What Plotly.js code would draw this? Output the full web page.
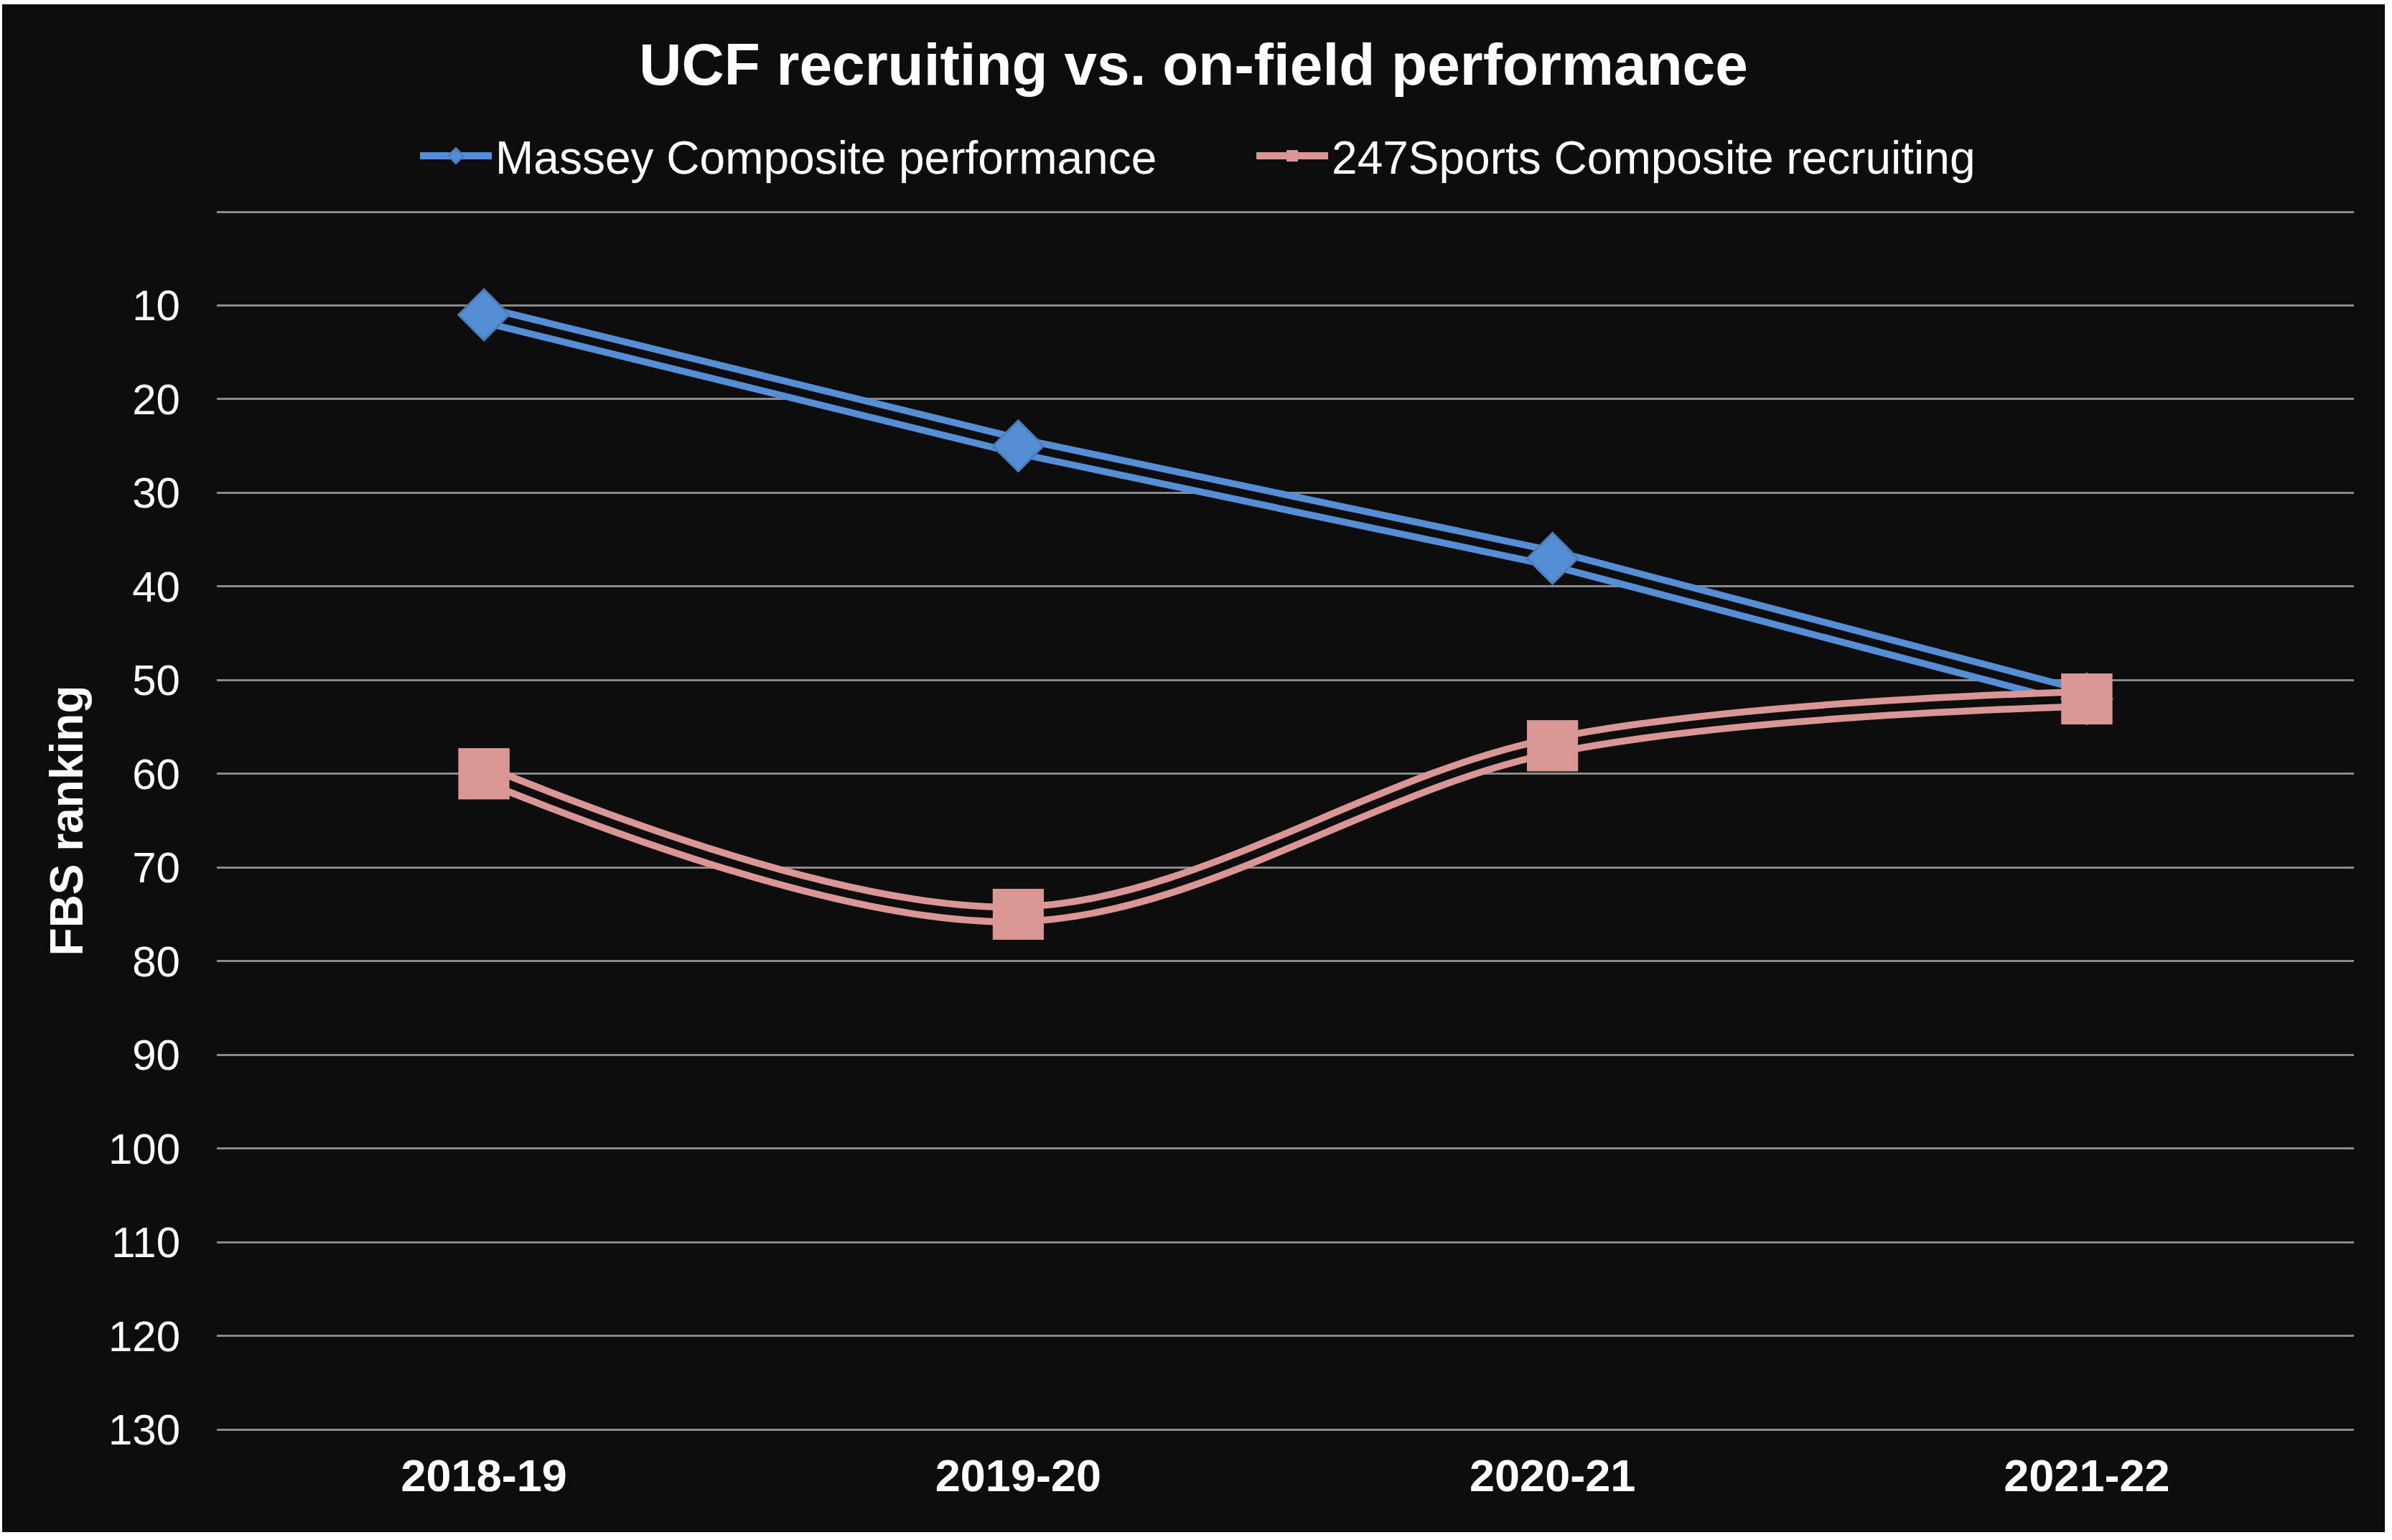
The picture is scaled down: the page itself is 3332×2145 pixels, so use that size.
<!DOCTYPE html>
<html><head><meta charset="utf-8">
<script src="https://cdn.plot.ly/plotly-3.0.1.min.js"></script>
<style>
html,body{margin:0;padding:0;background:#ffffff;}
#chart{position:absolute;left:3px;top:6px;width:3319px;height:2128px;}
</style></head><body><div id="chart"></div>
<script>
const seasons = ['2018-19', '2019-20', '2020-21', '2021-22'];
const masseyPerformance = [11, 25, 37, 52];
const recruiting247 = [60, 75, 57, 52];
const seriesNames = ['Massey Composite performance', '247Sports Composite recruiting'];
const yTickVals = [0, 10, 20, 30, 40, 50, 60, 70, 80, 90, 100, 110, 120, 130];
const yTickText = ['', '10', '20', '30', '40', '50', '60', '70', '80', '90', '100', '110', '120', '130'];

const BG = '#0d0d0d';
const BLUE = '#558ed5';
const PINK = '#d99694';
const FONT = '"Liberation Sans", Arial, Helvetica, sans-serif';

const traces = [
  {x: seasons, y: masseyPerformance, name: seriesNames[0], mode: 'lines+markers', type: 'scatter',
   line: {color: BLUE, width: 30}, marker: {symbol: 'diamond', size: 54, color: BLUE, line: {color: '#4a7ebb', width: 3}}},
  {x: seasons, y: masseyPerformance, mode: 'lines', type: 'scatter', showlegend: false,
   line: {color: BG, width: 11}},
  {x: seasons, y: recruiting247, name: seriesNames[1], mode: 'lines+markers', type: 'scatter',
   line: {color: PINK, width: 30, shape: 'spline', smoothing: 1}, marker: {symbol: 'square', size: 71, color: PINK}},
  {x: seasons, y: recruiting247, mode: 'lines', type: 'scatter', showlegend: false,
   line: {color: BG, width: 11, shape: 'spline', smoothing: 1}},
  {x: seasons, y: masseyPerformance, mode: 'markers', type: 'scatter', showlegend: false,
   marker: {symbol: 'diamond', size: 54, color: BLUE, line: {color: '#4a7ebb', width: 3}}},
  {x: seasons, y: recruiting247, mode: 'markers', type: 'scatter', showlegend: false,
   marker: {symbol: 'square', size: 71, color: PINK}}
];

const layout = {
  width: 3319, height: 2128,
  paper_bgcolor: BG, plot_bgcolor: BG,
  font: {family: FONT, color: '#ffffff', size: 60},
  margin: {l: 299, r: 43, t: 286, b: 140, pad: 0},
  hovermode: false,
  title: {text: '<b>UCF recruiting vs. on-field performance</b>', font: {family: FONT, size: 82, color: '#ffffff'},
          x: 0.5, xref: 'container', y: 1 - 83/2128, yref: 'container', yanchor: 'middle', xanchor: 'center'},
  legend: {orientation: 'h', x: 0.0934, xanchor: 'left', y: 1.0438, yanchor: 'middle',
           font: {family: FONT, size: 64, color: '#ffffff'}, bgcolor: 'rgba(0,0,0,0)',
           itemwidth: 100, entrywidth: 1050, entrywidthmode: 'pixels', traceorder: 'normal'},
  xaxis: {type: 'category', range: [-0.5, 3.5], showgrid: false, zeroline: false, showline: false,
          ticks: '', tickfont: {family: FONT, size: 63, color: '#ffffff', weight: 'bold'}, ticklabelstandoff: 19, fixedrange: true},
  yaxis: {range: [130.23, -0.23], tickmode: 'array', tickvals: yTickVals, ticktext: yTickText,
          showgrid: true, gridcolor: '#8a8a8a', gridwidth: 3, zeroline: false, showline: false,
          ticks: '', tickfont: {family: FONT, size: 60, color: '#ffffff'}, ticklabelstandoff: 50,
          title: {text: '<b>FBS ranking</b>', font: {family: FONT, size: 64, color: '#ffffff'}, standoff: 14}, fixedrange: true}
};

Plotly.newPlot('chart', traces, layout, {displayModeBar: false, staticPlot: true});
</script></body></html>
